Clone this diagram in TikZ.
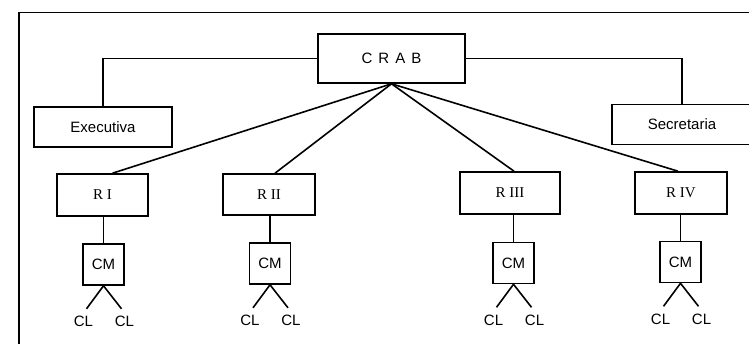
\documentclass[tikz,border=0pt]{standalone}
\usepackage{fontspec}
\usetikzlibrary{calc}
\setmainfont{Liberation Sans}
\newfontfamily\serifR{Liberation Serif}
\begin{document}
\begin{tikzpicture}[x=1pt,y=-1pt,
  line width=1.6pt,
  box/.style={draw, rectangle, inner sep=0pt, font=\fontsize{15}{18}\selectfont},
  rbox/.style={box, font=\serifR\fontsize{15}{18}\selectfont},
  lbl/.style={inner sep=0pt, font=\fontsize{15}{18}\selectfont}]
\useasboundingbox (0,0) rectangle (749,344);
% outer frame (top and left edges)
\draw (19,350) -- (19,12.5) -- (760,12.5);

% top level
\node[box, minimum width=147pt, minimum height=49pt] (crab) at (391.5,58.5)
  {C\hspace{6pt}R\hspace{6pt}A\hspace{6pt}B};
\node[box, minimum width=138pt, minimum height=40pt] (exec) at (103,127) {Executiva};
\node[box, minimum width=140pt, minimum height=40pt] (secr) at (682,124.5) {Secretaria};
\draw (crab.west) -| (exec.north);
\draw (crab.east) -| (secr.north);

% regions
\node[rbox, minimum width=91pt, minimum height=42pt] (r1) at (102.5,195) {R I};
\node[rbox, minimum width=92pt, minimum height=41pt] (r2) at (269,194.5) {R II};
\node[rbox, minimum width=100pt, minimum height=42pt] (r3) at (510,193) {R III};
\node[rbox, minimum width=92pt, minimum height=42pt] (r4) at (681,193) {R IV};
\draw (crab.south) -- ([xshift=10pt]r1.north);
\draw (crab.south) -- ([xshift=6pt]r2.north);
\draw (crab.south) -- ([xshift=4pt]r3.north);
\draw (crab.south) -- ([xshift=-3pt]r4.north);

% CM boxes with their CL pairs
\foreach \r/\x/\y in {r1/103.5/264.5, r2/270/263.5, r3/513.5/263, r4/680.5/262} {
  \node[box, minimum width=41pt, minimum height=41pt] (cm\r) at (\x,\y) {CM};
  \draw (\r.south -| cm\r.north) -- (cm\r.north);
  \coordinate (a\r) at ($(cm\r.south)+(-17,23)$);
  \coordinate (b\r) at ($(cm\r.south)+(18,23)$);
  \draw (a\r) -- (cm\r.south) -- (b\r);
  \node[lbl] (cla\r) at ($(cm\r.south)+(-20,36)$) {CL};
  \node[lbl] (clb\r) at ($(cm\r.south)+(21,36)$) {CL};
}
\end{tikzpicture}
\end{document}
